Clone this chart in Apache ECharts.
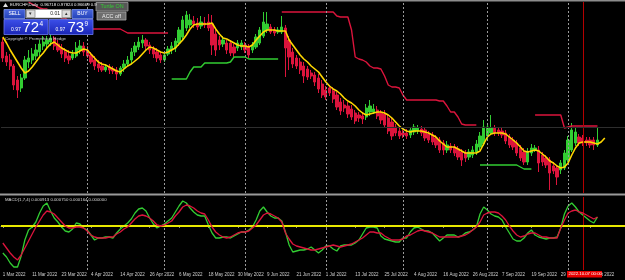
<!DOCTYPE html>
<html><head><meta charset="utf-8">
<script src="https://cdn.jsdelivr.net/npm/echarts@6/dist/echarts.min.js"></script>
<style>html,body{margin:0;padding:0;background:#000;}#c{width:625px;height:280px;}</style>
</head><body><div id="c"></div>
<script>
const dates = ["1 Mar 2022","2 Mar 2022","3 Mar 2022","4 Mar 2022","7 Mar 2022","8 Mar 2022","9 Mar 2022","10 Mar 2022","11 Mar 2022","14 Mar 2022","15 Mar 2022","16 Mar 2022","17 Mar 2022","18 Mar 2022","21 Mar 2022","22 Mar 2022","23 Mar 2022","24 Mar 2022","25 Mar 2022","28 Mar 2022","29 Mar 2022","30 Mar 2022","31 Mar 2022",
"1 Apr 2022","4 Apr 2022","5 Apr 2022","6 Apr 2022","7 Apr 2022","8 Apr 2022","11 Apr 2022","12 Apr 2022","13 Apr 2022","14 Apr 2022","15 Apr 2022","18 Apr 2022","19 Apr 2022","20 Apr 2022","21 Apr 2022","22 Apr 2022","25 Apr 2022","26 Apr 2022","27 Apr 2022","28 Apr 2022","29 Apr 2022",
"2 May 2022","3 May 2022","4 May 2022","5 May 2022","6 May 2022","9 May 2022","10 May 2022","11 May 2022","12 May 2022","13 May 2022","16 May 2022","17 May 2022","18 May 2022","19 May 2022","20 May 2022","23 May 2022","24 May 2022","25 May 2022","26 May 2022","27 May 2022","30 May 2022","31 May 2022",
"1 Jun 2022","2 Jun 2022","3 Jun 2022","6 Jun 2022","7 Jun 2022","8 Jun 2022","9 Jun 2022","10 Jun 2022","13 Jun 2022","14 Jun 2022","15 Jun 2022","16 Jun 2022","17 Jun 2022","20 Jun 2022","21 Jun 2022","22 Jun 2022","23 Jun 2022","24 Jun 2022","27 Jun 2022","28 Jun 2022","29 Jun 2022","30 Jun 2022",
"1 Jul 2022","4 Jul 2022","5 Jul 2022","6 Jul 2022","7 Jul 2022","8 Jul 2022","11 Jul 2022","12 Jul 2022","13 Jul 2022","14 Jul 2022","15 Jul 2022","18 Jul 2022","19 Jul 2022","20 Jul 2022","21 Jul 2022","22 Jul 2022","25 Jul 2022","26 Jul 2022","27 Jul 2022","28 Jul 2022","29 Jul 2022",
"1 Aug 2022","2 Aug 2022","3 Aug 2022","4 Aug 2022","5 Aug 2022","8 Aug 2022","9 Aug 2022","10 Aug 2022","11 Aug 2022","12 Aug 2022","15 Aug 2022","16 Aug 2022","17 Aug 2022","18 Aug 2022","19 Aug 2022","22 Aug 2022","23 Aug 2022","24 Aug 2022","25 Aug 2022","26 Aug 2022","29 Aug 2022","30 Aug 2022","31 Aug 2022",
"1 Sep 2022","2 Sep 2022","5 Sep 2022","6 Sep 2022","7 Sep 2022","8 Sep 2022","9 Sep 2022","12 Sep 2022","13 Sep 2022","14 Sep 2022","15 Sep 2022","16 Sep 2022","19 Sep 2022","20 Sep 2022","21 Sep 2022","22 Sep 2022","23 Sep 2022","26 Sep 2022","27 Sep 2022","28 Sep 2022","29 Sep 2022","30 Sep 2022",
"3 Oct 2022","4 Oct 2022","5 Oct 2022","6 Oct 2022","7 Oct 2022","10 Oct 2022","11 Oct 2022","12 Oct 2022","13 Oct 2022","14 Oct 2022","17 Oct 2022","18 Oct 2022","19 Oct 2022","20 Oct 2022","21 Oct 2022","24 Oct 2022"];

const opens = [1.065,1.051,1.047,1.041,1.027,1.019,1.029,1.045,1.047,1.051,
1.055,1.061,1.063,1.065,1.069,1.063,1.059,1.055,1.051,1.049,
1.051,1.057,1.061,1.057,1.052,1.047,1.043,1.041,1.037,1.040,
1.038,1.037,1.033,1.039,1.043,1.047,1.055,1.060,1.064,1.067,
1.062,1.058,1.055,1.052,1.047,1.053,1.057,1.059,1.064,1.070,
1.079,1.082,1.086,1.084,1.081,1.084,1.085,1.083,1.073,1.067,
1.063,1.064,1.064,1.060,1.059,1.060,1.062,1.060,1.057,1.060,
1.064,1.071,1.077,1.080,1.077,1.075,1.075,1.079,1.067,1.055,
1.049,1.045,1.041,1.038,1.034,1.032,1.029,1.023,1.017,1.019,
1.016,1.012,1.005,1.002,1.001,0.998,0.994,0.992,0.991,0.990,
0.995,0.995,0.997,0.994,0.993,0.989,0.985,0.980,0.976,0.974,
0.974,0.972,0.975,0.976,0.978,0.977,0.973,0.972,0.969,0.967,
0.964,0.957,0.961,0.960,0.958,0.955,0.954,0.950,0.952,0.955,
0.960,0.963,0.971,0.974,0.979,0.977,0.976,0.974,0.970,0.967,
0.964,0.959,0.955,0.945,0.954,0.957,0.957,0.952,0.949,0.947,
0.941,0.939,0.937,0.939,0.947,0.957,0.964,0.970,0.969,0.967,
0.967,0.967,0.962];
const closes = [1.049,1.045,1.041,1.022,1.017,1.029,1.047,1.049,1.053,1.057,
1.063,1.065,1.067,1.069,1.061,1.057,1.053,1.049,1.047,1.053,
1.059,1.061,1.055,1.051,1.045,1.041,1.039,1.037,1.040,1.037,
1.036,1.033,1.039,1.043,1.047,1.055,1.061,1.065,1.067,1.061,
1.057,1.053,1.049,1.047,1.052,1.058,1.061,1.066,1.077,1.087,
1.092,1.087,1.083,1.080,1.085,1.082,1.079,1.062,1.057,1.062,
1.067,1.057,1.054,1.054,1.064,1.064,1.057,1.052,1.062,1.070,
1.077,1.085,1.083,1.075,1.074,1.077,1.080,1.059,1.050,1.043,
1.041,1.037,1.031,1.030,1.031,1.025,1.018,1.012,1.010,1.014,
1.008,1.000,0.996,0.999,0.993,0.990,0.986,0.989,0.988,0.999,
1.001,0.998,0.991,0.987,0.982,0.976,0.971,0.974,0.971,0.972,
0.971,0.977,0.980,0.979,0.974,0.969,0.967,0.965,0.962,0.957,
0.957,0.962,0.957,0.954,0.950,0.947,0.949,0.955,0.957,0.963,
0.971,0.980,0.980,0.979,0.974,0.974,0.972,0.966,0.962,0.960,
0.954,0.949,0.945,0.955,0.959,0.959,0.944,0.945,0.942,0.934,
0.936,0.930,0.944,0.954,0.967,0.977,0.975,0.964,0.964,0.964,
0.962,0.962,0.967];
const lows = [1.045,1.041,1.037,1.017,1.009,1.015,1.027,1.039,1.043,1.047,
1.051,1.057,1.059,1.061,1.057,1.055,1.049,1.045,1.043,1.047,
1.049,1.053,1.051,1.049,1.043,1.037,1.035,1.035,1.035,1.033,
1.033,1.027,1.031,1.035,1.041,1.043,1.051,1.057,1.059,1.057,
1.053,1.049,1.045,1.044,1.045,1.051,1.053,1.055,1.061,1.067,
1.076,1.079,1.079,1.077,1.078,1.079,1.076,1.052,1.051,1.057,
1.060,1.053,1.051,1.050,1.056,1.057,1.054,1.049,1.054,1.058,
1.062,1.069,1.074,1.073,1.071,1.073,1.073,1.030,1.037,1.039,
1.038,1.033,1.024,1.027,1.028,1.021,1.014,1.009,1.007,1.011,
1.004,0.997,0.992,0.995,0.989,0.987,0.983,0.985,0.983,0.987,
0.991,0.993,0.988,0.983,0.979,0.973,0.967,0.971,0.968,0.969,
0.968,0.969,0.972,0.973,0.971,0.966,0.964,0.962,0.959,0.954,
0.952,0.954,0.954,0.951,0.947,0.941,0.945,0.947,0.949,0.952,
0.957,0.961,0.968,0.972,0.971,0.971,0.969,0.963,0.959,0.957,
0.951,0.946,0.942,0.942,0.951,0.955,0.935,0.941,0.939,0.917,
0.933,0.922,0.933,0.937,0.945,0.955,0.961,0.961,0.961,0.961,
0.959,0.957,0.960];
const highs = [1.069,1.055,1.053,1.043,1.031,1.033,1.051,1.057,1.059,1.063,
1.067,1.071,1.071,1.073,1.071,1.067,1.063,1.059,1.057,1.057,
1.065,1.067,1.065,1.061,1.055,1.051,1.047,1.045,1.043,1.043,
1.041,1.040,1.041,1.047,1.051,1.059,1.065,1.070,1.072,1.069,
1.065,1.061,1.059,1.055,1.055,1.061,1.065,1.069,1.080,1.091,
1.096,1.093,1.091,1.089,1.091,1.090,1.093,1.092,1.077,1.071,
1.071,1.067,1.067,1.063,1.067,1.067,1.065,1.063,1.065,1.073,
1.080,1.095,1.095,1.083,1.080,1.080,1.091,1.082,1.071,1.059,
1.052,1.049,1.045,1.041,1.037,1.035,1.033,1.027,1.021,1.022,
1.020,1.015,1.009,1.007,1.005,1.002,0.997,0.995,0.995,1.003,
1.007,1.003,1.001,0.997,0.997,0.992,0.989,0.983,0.979,0.977,
0.978,0.980,0.983,0.982,0.981,0.980,0.976,0.975,0.972,0.970,
0.967,0.966,0.964,0.963,0.961,0.958,0.957,0.958,0.961,0.967,
0.975,0.987,0.983,0.992,0.982,0.980,0.979,0.977,0.973,0.970,
0.967,0.962,0.959,0.959,0.963,0.962,0.961,0.955,0.952,0.950,
0.945,0.942,0.947,0.957,0.971,0.984,0.980,0.973,0.972,0.970,
0.970,0.970,0.979];

const yellowMA = [1.070,1.064,1.057,1.051,1.045,1.039,1.034,1.036,1.040,1.045,
1.050,1.054,1.059,1.063,1.065,1.062,1.059,1.057,1.055,1.054,
1.054,1.056,1.058,1.057,1.053,1.049,1.045,1.043,1.042,1.040,
1.038,1.036,1.035,1.038,1.041,1.043,1.046,1.049,1.053,1.057,
1.060,1.059,1.057,1.055,1.054,1.055,1.057,1.059,1.063,1.067,
1.072,1.078,1.082,1.083,1.083,1.083,1.083,1.084,1.078,1.073,
1.069,1.068,1.066,1.064,1.062,1.061,1.061,1.060,1.062,1.067,
1.071,1.075,1.077,1.077,1.077,1.076,1.076,1.076,1.067,1.062,
1.057,1.052,1.048,1.045,1.041,1.038,1.035,1.030,1.025,1.021,
1.018,1.016,1.013,1.009,1.006,1.004,1.001,0.997,0.994,0.992,
0.993,0.994,0.995,0.995,0.994,0.992,0.989,0.985,0.981,0.978,
0.976,0.975,0.976,0.976,0.976,0.975,0.974,0.972,0.970,0.966,
0.963,0.960,0.960,0.960,0.958,0.956,0.954,0.954,0.954,0.954,
0.956,0.963,0.970,0.973,0.974,0.974,0.974,0.973,0.970,0.967,
0.964,0.960,0.956,0.955,0.956,0.957,0.956,0.953,0.950,0.946,
0.944,0.941,0.939,0.940,0.944,0.952,0.959,0.964,0.965,0.965,
0.965,0.964,0.963,0.965,0.969];

const upperStop = [null,null,null,null,null,null,null,1.105,1.103,1.101,
1.099,1.098,1.098,1.095,1.095,1.092,1.089,1.089,1.085,1.085,
1.082,1.080,1.080,1.078,1.078,1.078,1.078,1.078,1.078,1.078,
1.078,1.078,1.078,1.076,1.074,1.074,1.074,1.074,1.074,1.074,
1.074,1.074,1.074,1.074,1.074,1.074,null,null,null,null,
null,null,null,null,null,null,null,null,null,null,
null,null,null,null,null,null,null,null,null,null,
null,null,null,null,null,null,1.095,1.095,1.095,1.095,
1.095,1.095,1.095,1.095,1.095,1.095,1.095,1.095,1.095,1.095,
1.095,1.091,1.090,1.090,1.090,1.077,1.050,1.048,1.047,1.045,
1.041,1.039,1.039,1.038,1.031,1.022,1.020,1.020,1.019,1.012,
1.007,1.007,1.007,1.007,1.007,1.007,1.007,1.007,1.007,1.006,
1.006,1.001,0.995,0.995,0.990,0.983,0.982,0.982,0.982,0.982,
null,null,null,null,null,null,null,null,null,null,
null,null,null,null,null,0.992,0.992,0.992,0.992,0.992,
0.992,0.992,0.992,0.979,0.980,0.981,0.981,0.981,0.981,0.981,
0.981,0.981,0.981];

const lowerStop = [null,null,null,null,null,null,null,null,null,null,
null,null,null,null,null,null,null,null,null,null,
null,null,null,null,null,null,null,null,null,null,
null,null,null,null,null,null,null,null,null,null,
null,null,null,null,null,null,1.028,1.028,1.028,1.028,
1.028,1.035,1.040,1.040,1.040,1.044,1.044,1.044,1.044,1.044,
1.044,1.044,1.045,1.050,1.050,1.050,1.050,1.048,1.048,1.048,
1.048,1.048,1.048,1.048,1.048,1.048,null,null,null,null,
null,null,null,null,null,null,null,null,null,null,
null,null,null,null,null,null,null,null,null,null,
null,null,null,null,null,null,null,null,null,null,
null,null,null,null,null,null,null,null,null,null,
null,null,null,null,null,null,null,null,null,null,
0.942,0.942,0.942,0.942,0.942,0.942,0.942,0.942,0.942,0.942,
0.942,0.940,0.938,0.938,0.938];

const macdMain = [-0.0027,-0.0031,-0.0037,-0.0041,-0.0041,-0.0030,-0.0014,-0.0004,-0.0001,0.0004,
0.0013,0.0020,0.0023,0.0015,0.0008,0.0004,-0.0001,-0.0005,-0.0006,-0.0003,
0.0003,0.0002,-0.0002,-0.0004,-0.0009,-0.0014,-0.0012,-0.0012,-0.0011,-0.0011,
-0.0012,-0.0007,-0.0003,0.0000,0.0003,0.0007,0.0013,0.0017,0.0018,0.0015,
0.0008,0.0002,-0.0002,0.0000,0.0002,0.0005,0.0008,0.0014,0.0020,0.0025,
0.0023,0.0018,0.0014,0.0011,0.0010,0.0010,0.0001,-0.0007,-0.0012,-0.0012,
-0.0011,-0.0011,-0.0012,-0.0010,-0.0008,-0.0006,-0.0006,-0.0004,-0.0001,0.0006,
0.0015,0.0019,0.0014,0.0010,0.0008,0.0008,0.0005,-0.0006,-0.0019,-0.0026,
-0.0025,-0.0024,-0.0024,-0.0023,-0.0021,-0.0024,-0.0027,-0.0024,-0.0020,-0.0020,
-0.0023,-0.0025,-0.0020,-0.0019,-0.0019,-0.0019,-0.0017,-0.0014,-0.0008,-0.0002,
-0.0001,-0.0001,-0.0002,-0.0010,-0.0013,-0.0014,-0.0015,-0.0016,-0.0016,-0.0012,
-0.0012,-0.0006,-0.0002,-0.0001,-0.0003,-0.0005,-0.0005,-0.0007,-0.0011,-0.0015,
-0.0012,-0.0009,-0.0009,-0.0009,-0.0011,-0.0010,-0.0007,-0.0006,-0.0004,-0.0001,
0.0012,0.0019,0.0016,0.0012,0.0010,0.0009,0.0006,-0.0001,-0.0007,-0.0013,
-0.0015,-0.0015,-0.0012,-0.0007,-0.0004,-0.0009,-0.0011,-0.0012,-0.0013,-0.0012,
-0.0012,-0.0011,-0.0002,0.0012,0.0020,0.0023,0.0019,0.0014,0.0011,0.0008,
0.0005,0.0003,0.0009];
const macdSignal = [-0.0017,-0.0022,-0.0027,-0.0031,-0.0034,-0.0029,-0.0022,-0.0015,-0.0008,-0.0001,
0.0005,0.0011,0.0015,0.0014,0.0012,0.0008,0.0004,0.0000,-0.0002,-0.0002,
-0.0001,-0.0001,-0.0002,-0.0005,-0.0009,-0.0011,-0.0012,-0.0012,-0.0012,-0.0011,
-0.0011,-0.0008,-0.0006,-0.0003,-0.0001,0.0003,0.0007,0.0010,0.0011,0.0010,
0.0008,0.0005,0.0001,0.0000,0.0001,0.0003,0.0005,0.0010,0.0014,0.0019,
0.0021,0.0020,0.0018,0.0015,0.0013,0.0012,0.0006,-0.0001,-0.0006,-0.0009,
-0.0011,-0.0012,-0.0011,-0.0009,-0.0007,-0.0006,-0.0006,-0.0005,-0.0002,0.0001,
0.0006,0.0011,0.0013,0.0012,0.0010,0.0008,0.0004,-0.0007,-0.0013,-0.0018,
-0.0020,-0.0021,-0.0022,-0.0023,-0.0024,-0.0024,-0.0023,-0.0022,-0.0021,-0.0020,
-0.0019,-0.0020,-0.0021,-0.0020,-0.0019,-0.0018,-0.0016,-0.0014,-0.0012,-0.0009,
-0.0006,-0.0006,-0.0007,-0.0007,-0.0010,-0.0012,-0.0014,-0.0014,-0.0014,-0.0013,
-0.0010,-0.0009,-0.0007,-0.0005,-0.0004,-0.0005,-0.0006,-0.0007,-0.0009,-0.0011,
-0.0011,-0.0011,-0.0011,-0.0011,-0.0011,-0.0010,-0.0009,-0.0007,-0.0004,-0.0001,
0.0004,0.0011,0.0013,0.0014,0.0014,0.0013,0.0010,0.0006,0.0000,-0.0005,
-0.0009,-0.0011,-0.0010,-0.0008,-0.0007,-0.0007,-0.0009,-0.0011,-0.0011,-0.0012,
-0.0012,-0.0012,-0.0002,0.0006,0.0013,0.0015,0.0016,0.0014,0.0013,0.0011,
0.0009,0.0007,0.0009];

const monthStarts = [23,44,66,88,109,132,154];
const cursorBar = 158;
const gridLevel = 0.977;
const labelStep = 8;
const lastLabelBar = 160;

const candles = opens.map((o,i)=>[o, closes[i], lows[i], highs[i]]);
const sepLines = monthStarts.map(v=>({xAxis:v}));
const showLabel = (idx)=> idx % labelStep === 0 && idx <= lastLabelBar;

const chart = echarts.init(document.getElementById('c'), null, {renderer:'canvas', width:625, height:280});
const F = '"Liberation Sans", Arial, sans-serif';
const txt = (x,y,t,size,fill,align,extra) => Object.assign({type:'text', z:110, style:{x:x,y:y,text:t,fill:fill,font:size+'px '+F,textAlign:align||'left',textVerticalAlign:'top'}}, extra||{});
const box = (x,y,w,h,fill,stroke) => ({type:'rect', z:105, shape:{x:x,y:y,width:w,height:h}, style:{fill:fill,stroke:stroke||null,lineWidth:stroke?0.8:0}});
const blueGrad = {type:'linear',x:0,y:0,x2:0,y2:1,colorStops:[{offset:0,color:'#3c50ea'},{offset:1,color:'#1a25b5'}]};
const btnGrad = {type:'linear',x:0,y:0,x2:0,y2:1,colorStops:[{offset:0,color:'#4a67dc'},{offset:1,color:'#2140b8'}]};

chart.setOption({
  backgroundColor:'#000',
  animation:false,
  grid:[
    {left:1,right:0,top:2,height:191,containLabel:false,outerBoundsMode:'none'},
    {left:1,right:0,top:197,height:73,containLabel:false,outerBoundsMode:'none'}
  ],
  xAxis:[
    {type:'category',gridIndex:0,data:dates,boundaryGap:true,axisLine:{show:false},axisTick:{show:false},axisLabel:{show:false},splitLine:{show:false}},
    {type:'category',gridIndex:1,data:dates,boundaryGap:true,
      axisLine:{show:true,lineStyle:{color:'#8a8a8a',width:1}},
      axisTick:{show:true,interval:showLabel,length:2,alignWithLabel:true,lineStyle:{color:'#8a8a8a'}},
      axisLabel:{show:true,interval:showLabel,align:'left',margin:2,fontSize:4.5,color:'#d0d0d0',fontFamily:'Liberation Sans'},
      splitLine:{show:false}}
  ],
  yAxis:[
    {type:'value',gridIndex:0,min:0.914,max:1.105,show:false,splitLine:{show:false}},
    {type:'value',gridIndex:1,min:-0.0044,max:0.0029,show:false,splitLine:{show:false}}
  ],
  series:[
    {type:'candlestick',xAxisIndex:0,yAxisIndex:0,data:candles,barWidth:2.8,
      itemStyle:{color:'#32cd32',color0:'#dc143c',borderColor:'#32cd32',borderColor0:'#dc143c',borderWidth:1},
      markLine:{silent:true,symbol:'none',label:{show:false},animation:false,
        lineStyle:{color:'#9a9a9a',type:[2,2],width:1},
        data:sepLines.concat([
          {xAxis:cursorBar,lineStyle:{color:'#b40000',type:'solid',width:1}},
          {yAxis:gridLevel,lineStyle:{color:'#2e2e2e',type:'solid',width:1}}
        ])}
    },
    {type:'line',xAxisIndex:0,yAxisIndex:0,data:yellowMA,showSymbol:false,z:4,lineStyle:{color:'#ffd700',width:1.6}},
    {type:'line',xAxisIndex:0,yAxisIndex:0,data:upperStop,showSymbol:false,connectNulls:false,z:4,lineStyle:{color:'#dc143c',width:1.4}},
    {type:'line',xAxisIndex:0,yAxisIndex:0,data:lowerStop,showSymbol:false,connectNulls:false,z:4,lineStyle:{color:'#32cd32',width:1.4}},
    {type:'line',xAxisIndex:1,yAxisIndex:1,data:macdMain,showSymbol:false,z:4,lineStyle:{color:'#32cd32',width:1.3},
      markLine:{silent:true,symbol:'none',label:{show:false},animation:false,
        lineStyle:{color:'#9a9a9a',type:[2,2],width:1},
        data:sepLines.concat([
          {xAxis:cursorBar,lineStyle:{color:'#b40000',type:'solid',width:1}},
          {yAxis:0,lineStyle:{color:'#e8e800',type:'solid',width:2}}
        ])}
    },
    {type:'line',xAxisIndex:1,yAxisIndex:1,data:macdSignal,showSymbol:false,z:5,lineStyle:{color:'#dc143c',width:1.3}}
  ],
  graphic:[
    box(0,0,625,1.5,'#8c8c8c'),
    box(0,193.5,625,2,'#9a9a9a'),
    {type:'polygon',z:110,shape:{points:[[3,7],[5.5,3],[8,7]]},style:{fill:'#e0e0e0'}},
    txt(10,2.6,'EURCHF,Daily  0.96718 0.97824 0.96669 0.9',4.3,'#f2f2f2'),
    box(4,9.5,21,9,btnGrad,'#7d95ea'),
    txt(14.5,11.6,'SELL',5,'#ffffff','center'),
    box(26,9.5,45,8.5,'#ffffff','#9a9a9a'),
    box(26.5,10,8.5,7.5,'#dcdcdc','#8a8a8a'),
    box(62,10,8.5,7.5,'#dcdcdc','#8a8a8a'),
    txt(30.7,11.4,'▾',5,'#333333','center'),
    txt(66.2,11.4,'▴',5,'#333333','center'),
    txt(60,11.6,'0.01',5,'#222222','right'),
    box(72,9.5,21,9,btnGrad,'#7d95ea'),
    txt(82.5,11.6,'BUY',5,'#ffffff','center'),
    box(4,19.5,44,15,blueGrad,'#6a7af2'),
    box(49,19.5,44,15,blueGrad,'#6a7af2'),
    txt(11,27.6,'0.97',5,'#ffffff'),
    txt(22.5,20,'72',15,'#ffffff'),
    txt(39.5,20.5,'4',6.5,'#ffffff'),
    txt(55.5,27.6,'0.97',5,'#ffffff'),
    txt(67.5,20,'73',15,'#ffffff'),
    txt(84.5,20.5,'9',6.5,'#ffffff'),
    box(96,2.5,32,8.5,'#575757','#9a9a9a'),
    txt(112,4.4,'Turtle ON',5.4,'#33cc33','center'),
    box(97,12,29,8,'#6e6e6e','#a8a8a8'),
    txt(111.5,13.7,'ACC off',5.4,'#f0f0f0','center'),
    txt(5,37,'Copyright © Prometheus Hedge',4.3,'#d0d0d0'),
    txt(5,197.6,'MACD(1,7,4) 0.000913 0.000750 0.000164 0.000000',4.3,'#d8d8d8'),
    box(567,271,35,6.5,'#e80000'),
    txt(568.5,272.2,'2022.10.07 00:00',4.3,'#ffffff')
  ]
});
</script></body></html>
